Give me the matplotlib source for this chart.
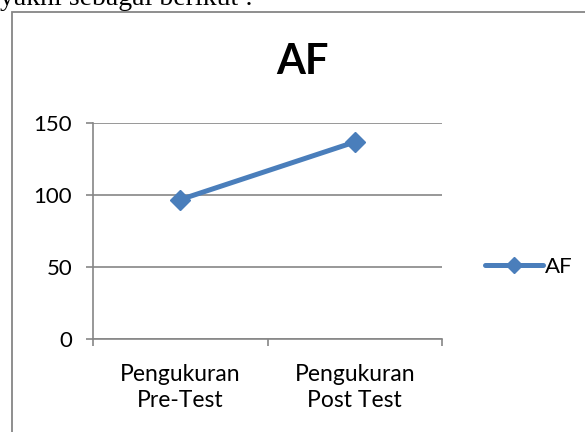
import numpy as np
import matplotlib
matplotlib.use("Agg")
import matplotlib.pyplot as plt
from matplotlib.patches import Rectangle

# Daten
categories = ["Pengukuran\nPre-Test", "Pengukuran\nPost Test"]
af_values = [97, 137]
series_name = "AF"
y_ticks = [0, 50, 100, 150]

BLUE = "#4A7EBB"
GRAY = "#868686"

plt.rcParams["font.family"] = ["Lato", "DejaVu Sans"]

fig = plt.figure(figsize=(5.85, 4.32), dpi=100)

# cropped text from the document above the chart
fig.text(0.0, 1 - 5 / 432, "yakni sebagai berikut :", family="Liberation Serif",
         fontsize=20, va="baseline", ha="left")

# chart frame
fig.patches.append(Rectangle((12 / 585, -0.1), 1.2, (432 - 12) / 432 + 0.1,
                             transform=fig.transFigure, fill=False,
                             edgecolor=GRAY, linewidth=1.3))

ax = fig.add_axes([93 / 585, (432 - 339.3) / 432, (442 - 93) / 585, 216 / 432])
x = np.arange(len(categories)) + 0.5
ax.plot(x, af_values, color=BLUE, linewidth=3.6, marker="D", markersize=10,
        label=series_name, solid_capstyle="round")

ax.set_xlim(0, len(categories))
ax.set_ylim(0, 150)
ax.set_yticks(y_ticks)
ax.set_xticks(np.arange(len(categories) + 1))
ax.set_xticklabels([])
ax.set_xticks(x, minor=True)
ax.set_xticklabels(categories, minor=True, fontsize=16.5, linespacing=1.3)
ax.tick_params(axis="x", which="minor", length=0, pad=18)
ax.tick_params(axis="x", which="major", length=5, color=GRAY, width=1.2)
ax.tick_params(axis="y", length=5, color=GRAY, width=1.2, pad=10, labelsize=16)

ax.grid(axis="y", color=GRAY, linewidth=1.2)
ax.set_axisbelow(True)
for side in ["top", "right"]:
    ax.spines[side].set_visible(False)
for side in ["left", "bottom"]:
    ax.spines[side].set_color(GRAY)
    ax.spines[side].set_linewidth(1.2)

fig.text(302 / 585, 1 - 62 / 432, "AF", fontsize=30, fontweight="bold",
         ha="center", va="center")

fig.legend(loc="center left", bbox_to_anchor=(476 / 585, 1 - 267 / 432),
           frameon=False, fontsize=16, handlelength=2.6, handletextpad=0.1,
           borderaxespad=0, markerscale=0.8)

fig.savefig("out.png", dpi=100)
